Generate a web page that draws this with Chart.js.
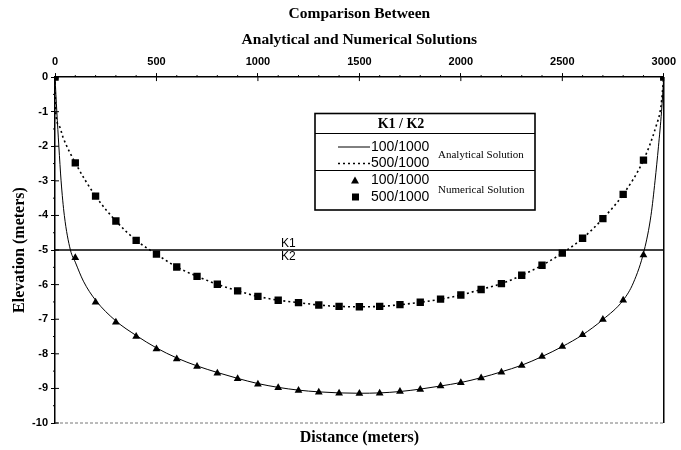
<!DOCTYPE html>
<html><head><meta charset="utf-8">
<script src="https://cdn.jsdelivr.net/npm/chart.js@4/dist/chart.umd.min.js"></script>
<style>html,body{margin:0;padding:0;background:#fff}#wrap{width:681px;height:450px}</style>
</head><body><div id="wrap"><canvas id="c" width="681" height="450"></canvas></div>
<script>
const titleLines = ['Comparison Between', 'Analytical and Numerical Solutions'];
const xAxisTitle = 'Distance (meters)';
const yAxisTitle = 'Elevation (meters)';
const xTicks = [0, 500, 1000, 1500, 2000, 2500, 3000];
const yTicks = [0, -1, -2, -3, -4, -5, -6, -7, -8, -9, -10];

// Numerical solution (markers)
const numDistance = [0,100,200,300,400,500,600,700,800,900,1000,1100,1200,1300,1400,1500,1600,1700,1800,1900,2000,2100,2200,2300,2400,2500,2600,2700,2800,2900,3000];
const num100 = [0,-5.22,-6.51,-7.09,-7.50,-7.86,-8.15,-8.37,-8.56,-8.72,-8.88,-8.98,-9.06,-9.11,-9.14,-9.15,-9.14,-9.09,-9.03,-8.93,-8.84,-8.70,-8.53,-8.34,-8.08,-7.79,-7.45,-7.01,-6.45,-5.14,0];
const num500 = [0,-2.48,-3.44,-4.16,-4.72,-5.12,-5.49,-5.76,-5.99,-6.18,-6.34,-6.45,-6.52,-6.59,-6.63,-6.64,-6.63,-6.58,-6.51,-6.42,-6.30,-6.14,-5.97,-5.73,-5.44,-5.09,-4.66,-4.09,-3.39,-2.40,0];

// Analytical solution (lines)
const ana100Distance = [0,9,19,30,46,76,100,140,200,300,400,500,600,700,800,900,1000,1100,1200,1300,1400,1500,1600,1700,1800,1900,2000,2100,2200,2300,2400,2500,2600,2700,2800,2850,2904,2937,2957,2974,2989,3000];
const ana100 = [0,-1.0,-2.0,-3.0,-4.0,-5.0,-5.35,-5.9,-6.45,-7.05,-7.47,-7.83,-8.12,-8.35,-8.54,-8.71,-8.86,-8.97,-9.05,-9.1,-9.13,-9.14,-9.13,-9.09,-9.02,-8.93,-8.83,-8.69,-8.52,-8.33,-8.08,-7.79,-7.45,-7.01,-6.45,-5.95,-5.0,-4.0,-3.0,-2.0,-1.0,0];
const ana500Distance = [0,3,20,40,100,200,300,400,500,600,700,800,900,1000,1100,1200,1300,1400,1500,1600,1700,1800,1900,2000,2100,2200,2300,2400,2500,2600,2700,2800,2900,2962,2986,3000];
const ana500 = [0,-1.0,-1.4,-1.75,-2.48,-3.44,-4.16,-4.72,-5.12,-5.49,-5.76,-5.99,-6.18,-6.34,-6.45,-6.52,-6.59,-6.63,-6.64,-6.63,-6.58,-6.51,-6.42,-6.30,-6.14,-5.97,-5.73,-5.44,-5.09,-4.66,-4.09,-3.39,-2.40,-1.42,-0.85,0];

// K1 / K2 interface
const interfaceDistance = [0, 3000];
const interfaceElevation = [-5, -5];
const interfaceLabelAt = 1150;
const interfaceLabels = ['K1', 'K2'];

const legendHeader = 'K1 / K2';
const legendRatios = ['100/1000', '500/1000'];
const legendGroups = ['Analytical Solution', 'Numerical Solution'];

const pts = (xs, ys) => xs.map((x, i) => ({x, y: ys[i]}));

const decor = {
  id: 'decor',
  afterDraw(chart) {
    const {ctx, chartArea: a, scales: {x, y}} = chart;
    ctx.save();
    ctx.strokeStyle = '#000';
    // right and bottom frame
    ctx.lineWidth = 1.5;
    ctx.beginPath(); ctx.moveTo(a.right, a.top); ctx.lineTo(a.right, a.bottom); ctx.stroke();
    ctx.lineWidth = 1; ctx.strokeStyle = '#777'; ctx.setLineDash([3, 2]);
    ctx.beginPath(); ctx.moveTo(a.left, a.bottom); ctx.lineTo(a.right, a.bottom); ctx.stroke();
    ctx.setLineDash([]); ctx.strokeStyle = '#000';
    // inward major ticks + minor ticks
    ctx.lineWidth = 1;
    for (let v = 0; v <= 3000; v += 100) {
      const px = x.getPixelForValue(v);
      ctx.beginPath();
      if (v % 500 === 0) { ctx.moveTo(px, a.top); ctx.lineTo(px, a.top + 4); }
      else { ctx.moveTo(px, a.top); ctx.lineTo(px, a.top - 2); }
      ctx.stroke();
    }
    for (let v = 0; v >= -10; v -= 0.5) {
      const py = y.getPixelForValue(v);
      ctx.beginPath();
      if (Number.isInteger(v)) { ctx.moveTo(a.left, py); ctx.lineTo(a.left + 4, py); }
      else { ctx.moveTo(a.left, py); ctx.lineTo(a.left - 2, py); }
      ctx.stroke();
    }
    // K1 / K2 labels
    ctx.fillStyle = '#000';
    ctx.font = '12px "Liberation Sans", Arial, sans-serif';
    ctx.textAlign = 'center';
    const lx = x.getPixelForValue(interfaceLabelAt), ly = y.getPixelForValue(interfaceElevation[0]);
    ctx.textBaseline = 'bottom'; ctx.fillText(interfaceLabels[0], lx, ly);
    ctx.textBaseline = 'top'; ctx.fillText(interfaceLabels[1], lx, ly + 1);
    // legend box
    const L = 315, R = 535, T = 113.5, B = 210;
    ctx.fillStyle = '#fff'; ctx.fillRect(L, T, R - L, B - T);
    ctx.lineWidth = 1.6; ctx.strokeStyle = '#000';
    ctx.strokeRect(L, T, R - L, B - T);
    ctx.lineWidth = 1.2;
    ctx.beginPath(); ctx.moveTo(L, 133.5); ctx.lineTo(R, 133.5); ctx.stroke();
    ctx.beginPath(); ctx.moveTo(L, 170.5); ctx.lineTo(R, 170.5); ctx.stroke();
    ctx.fillStyle = '#000'; ctx.textBaseline = 'middle';
    ctx.font = 'bold 14px "Liberation Serif", "Times New Roman", serif';
    ctx.textAlign = 'center';
    ctx.fillText(legendHeader, 401, 124);
    // samples
    ctx.lineWidth = 1;
    ctx.beginPath(); ctx.moveTo(338, 147); ctx.lineTo(370, 147); ctx.stroke();
    ctx.setLineDash([2, 3]); ctx.lineWidth = 1.5;
    ctx.beginPath(); ctx.moveTo(338, 163.5); ctx.lineTo(370, 163.5); ctx.stroke();
    ctx.setLineDash([]);
    ctx.beginPath(); ctx.moveTo(355, 176.5); ctx.lineTo(359, 183.5); ctx.lineTo(351, 183.5); ctx.closePath(); ctx.fill();
    ctx.fillRect(352, 193.5, 7, 7);
    ctx.font = '14px "Liberation Sans", Arial, sans-serif';
    ctx.textAlign = 'left';
    ctx.fillText(legendRatios[0], 371, 147);
    ctx.fillText(legendRatios[1], 371, 163.5);
    ctx.fillText(legendRatios[0], 371, 180);
    ctx.fillText(legendRatios[1], 371, 197);
    ctx.font = '11px "Liberation Serif", "Times New Roman", serif';
    ctx.fillText(legendGroups[0], 438, 155);
    ctx.fillText(legendGroups[1], 438, 190);
    ctx.restore();
  }
};

const tickFont = {family: '"Liberation Sans", Arial, sans-serif', size: 11, weight: 'bold'};
const serifBold = {family: '"Liberation Serif", "Times New Roman", serif', weight: 'bold'};

new Chart(document.getElementById('c'), {
  type: 'scatter',
  data: {
    datasets: [
      {label: 'K1/K2 interface', data: pts(interfaceDistance, interfaceElevation), showLine: true,
       borderColor: '#000', borderWidth: 1.5, pointRadius: 0},
      {label: 'Analytical 100/1000', data: pts(ana100Distance, ana100), showLine: true,
       borderColor: '#000', borderWidth: 1, pointRadius: 0, cubicInterpolationMode: 'monotone'},
      {label: 'Analytical 500/1000', data: pts(ana500Distance, ana500), showLine: true,
       borderColor: '#000', borderWidth: 1.6, borderDash: [2, 3], pointRadius: 0, cubicInterpolationMode: 'monotone'},
      {label: 'Numerical 100/1000', data: pts(numDistance, num100), showLine: false,
       pointStyle: 'triangle', pointRadius: 4.5, backgroundColor: '#000', borderColor: '#000', borderWidth: 0},
      {label: 'Numerical 500/1000', data: pts(numDistance, num500), showLine: false,
       pointStyle: 'rect', pointRadius: 5.2, backgroundColor: '#000', borderColor: '#000', borderWidth: 0}
    ]
  },
  options: {
    responsive: false,
    animation: false,
    layout: {padding: {left: 0, right: 12, top: 0, bottom: 0}},
    plugins: {
      legend: {display: false},
      tooltip: {enabled: false},
      title: {display: true, text: titleLines, fullSize: false, color: '#000',
        font: Object.assign({size: 15.5, lineHeight: 1.68}, serifBold), padding: {top: 1, bottom: 4}},
      subtitle: {display: true, text: xAxisTitle, position: 'bottom', fullSize: false, color: '#000',
        font: Object.assign({size: 16, lineHeight: 1.2}, serifBold), padding: {top: 5, bottom: 2.8}}
    },
    scales: {
      x: {
        type: 'linear', position: 'top', min: 0, max: 3000,
        afterBuildTicks: s => { s.ticks = xTicks.map(v => ({value: v})); },
        afterFit: s => { s.height = 20; },
        ticks: {color: '#000', font: tickFont, padding: 5, maxRotation: 0, callback: v => String(v)},
        grid: {display: true, drawOnChartArea: false, drawTicks: true, tickLength: 4, color: '#000', tickColor: '#000'},
        border: {display: true, color: '#000', width: 1.5}
      },
      y: {
        type: 'linear', position: 'left', min: -10, max: 0,
        afterBuildTicks: s => { s.ticks = yTicks.map(v => ({value: v})); },
        afterFit: s => { s.width = 55; },
        ticks: {color: '#000', font: tickFont, padding: 3, callback: v => String(v)},
        grid: {display: true, drawOnChartArea: false, drawTicks: true, tickLength: 4, color: '#000', tickColor: '#000'},
        border: {display: true, color: '#000', width: 1.5},
        title: {display: true, text: yAxisTitle, color: '#000',
          font: Object.assign({size: 16, lineHeight: 1.2}, serifBold), padding: {top: 10, bottom: 0}}
      }
    }
  },
  plugins: [decor]
});
</script></body></html>
